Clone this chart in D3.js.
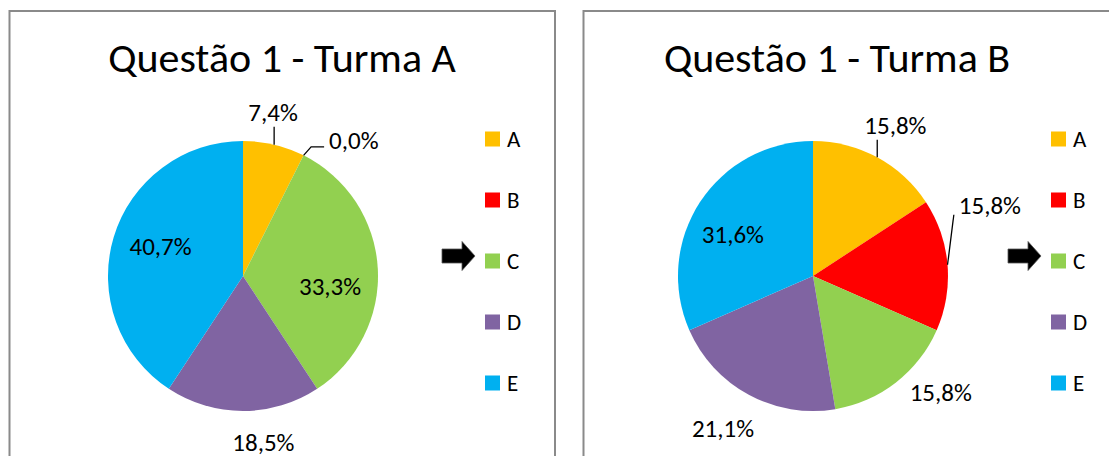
<!DOCTYPE html>
<html><head><meta charset="utf-8">
<script src="https://cdn.jsdelivr.net/npm/d3@7"></script>
<style>html,body{margin:0;padding:0;background:#fff;}svg{display:block;font-family:Carlito,Lato,"Open Sans",sans-serif;}</style>
</head><body>
<svg id="c" width="1109" height="456"></svg>
<script>
// ---- data ----
const categories = ["A", "B", "C", "D", "E"];
const titles = ["Questão 1 - Turma A", "Questão 1 - Turma B"];
const valuesTurmaA = [7.4, 0.0, 33.3, 18.5, 40.7];
const valuesTurmaB = [15.8, 15.8, 15.8, 21.1, 31.6];
const correctAnswer = "C";
const colors = ["#FFC000", "#FF0000", "#92D050", "#8064A2", "#00B0F0"];

// ---- layout (not data) ----
const panels = [
  {x: 9.5, w: 545.5, cx: 243, titleX: 282, legendX: 485, values: valuesTurmaA,
   // label placement: [angle nudge (deg), radius factor, leader style]
   labels: [[-2.9, 1.23, "vertical"], [12.5, 1.30, "elbow"], [10.3, 0.65, "none"], [-7, 1.24, "none"], [3.3, 0.65, "none"]]},
  {x: 583.5, w: 560, cx: 813, titleX: 837, legendX: 1051, values: valuesTurmaB,
   labels: [[0.3, 1.27, "vertical"], [-16.9, 1.41, "side"], [-9.7, 1.28, "none"], [2.2, 1.31, "none"], [-5.5, 0.67, "none"]]}
];
const cy = 276, R = 135;

const svg = d3.select("#c");
const pie = d3.pie().sort(null).value(d => d);
const arc = d3.arc().innerRadius(0).outerRadius(R);
const fmt = v => d3.format(".1f")(v).replace(".", ",") + "%";
const color = d3.scaleOrdinal().domain(categories).range(colors);
const legendY = d3.scalePoint().domain(categories).range([139, 383]);

panels.forEach((p, pi) => {
  const g = svg.append("g");
  g.append("rect").attr("x", p.x).attr("y", 11).attr("width", p.w).attr("height", 470)
    .attr("fill", "#fff").attr("stroke", "#8a8a8a").attr("stroke-width", 2);
  g.append("text").attr("x", p.titleX).attr("y", 72).attr("text-anchor", "middle")
    .attr("font-size", 42).attr("fill", "#000").text(titles[pi]);

  const arcs = pie(p.values);
  const pg = g.append("g").attr("transform", `translate(${p.cx},${cy})`);
  pg.selectAll("path").data(arcs).join("path")
    .attr("d", arc).attr("fill", (d, i) => color(categories[i]));

  arcs.forEach((d, i) => {
    const [nudge, rf, leader] = p.labels[i];
    const mid = (d.startAngle + d.endAngle) / 2;
    const a = mid + nudge * Math.PI / 180;
    const lx = Math.sin(a) * R * rf, ly = -Math.cos(a) * R * rf;
    const t = pg.append("text").attr("x", lx).attr("y", ly).attr("text-anchor", "middle")
      .attr("dy", "0.35em").attr("font-size", 25).attr("fill", "#000").text(fmt(d.value));
    const ex = Math.sin(mid) * R, ey = -Math.cos(mid) * R;
    const bb = t.node().getBBox();
    let pts = null;
    if (leader === "vertical") pts = [[ex, ey], [ex, ly + 14]];
    else if (leader === "side") pts = [[ex, ey], [bb.x - 5, ly + 9]];
    else if (leader === "elbow") pts = [[ex, ey], [bb.x - 18, ly + 7], [bb.x - 5, ly + 7]];
    if (pts) pg.append("path").attr("d", d3.line()(pts)).attr("fill", "none")
      .attr("stroke", "#000").attr("stroke-width", 1.3);
  });

  // legend
  const lg = g.append("g");
  categories.forEach((c, i) => {
    const y = legendY(c);
    lg.append("rect").attr("x", p.legendX).attr("y", y - 7.5).attr("width", 15).attr("height", 15)
      .attr("fill", color(c));
    lg.append("text").attr("x", p.legendX + 22).attr("y", y).attr("dy", "0.36em")
      .attr("font-size", 23).attr("fill", "#000").text(c);
    if (c === correctAnswer) {
      const tx = p.legendX - 10, ty = y - 5;
      const arrow = [[tx - 33, ty - 7], [tx - 13, ty - 7], [tx - 13, ty - 14.5], [tx, ty],
                     [tx - 13, ty + 14.5], [tx - 13, ty + 7], [tx - 33, ty + 7]];
      lg.append("path").attr("d", d3.line()(arrow) + "Z").attr("fill", "#000")
        .attr("stroke", "#555").attr("stroke-width", 0.8);
    }
  });
});
</script>
</body></html>
